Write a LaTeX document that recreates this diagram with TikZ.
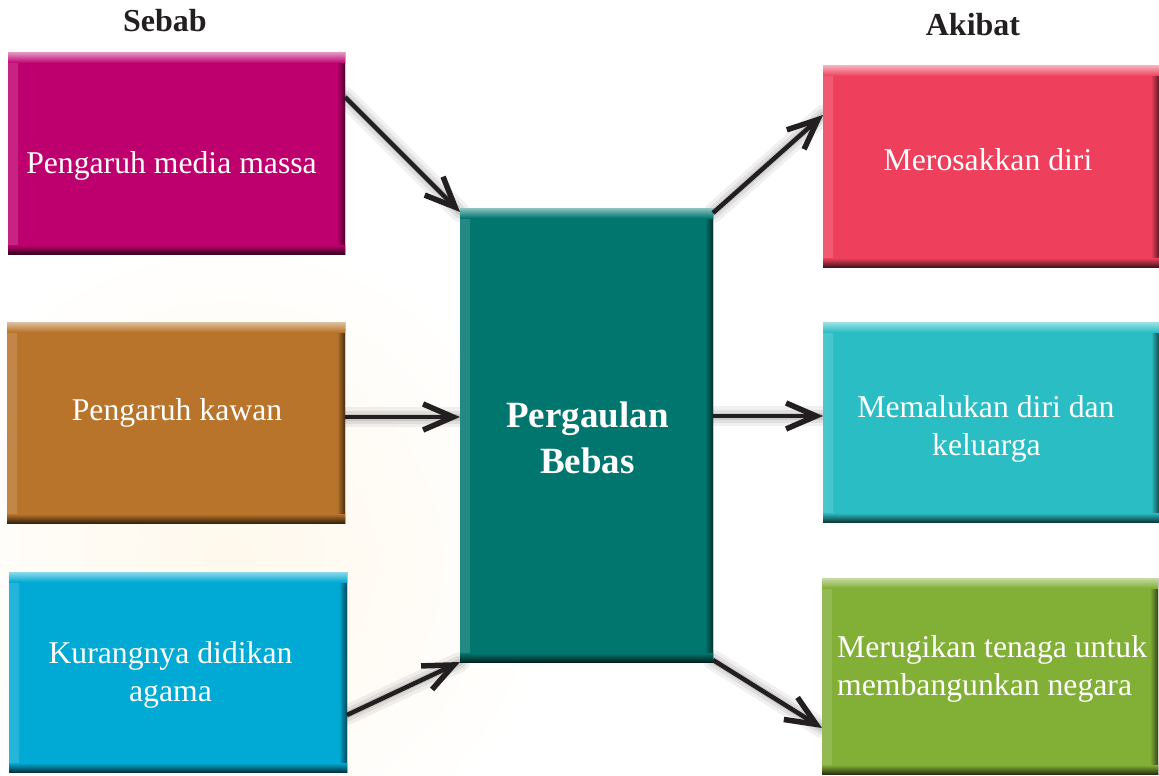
\documentclass[tikz,border=0pt]{standalone}
\usepackage{fontspec}
\setmainfont{Liberation Serif}
\usetikzlibrary{arrows.meta,calc}
\definecolor{cmag}{RGB}{190,0,110}
\definecolor{cbrown}{RGB}{184,116,42}
\definecolor{cblue}{RGB}{0,170,212}
\definecolor{cteal}{RGB}{0,118,110}
\definecolor{cred}{RGB}{238,64,92}
\definecolor{ccyan}{RGB}{42,190,196}
\definecolor{cgreen}{RGB}{130,175,54}
\definecolor{ink}{RGB}{35,31,32}
\definecolor{cream}{RGB}{255,248,236}
\tikzset{
  box/.style={rectangle, inner sep=0pt, outer sep=0pt, draw=none, fill=#1,
    path picture={
      \shade[left color=#1!86!white, right color=#1] (path picture bounding box.north west) rectangle ([xshift=10pt]path picture bounding box.south west);
      \shade[left color=#1, right color=#1!40!black] ([xshift=-8pt]path picture bounding box.north east) rectangle (path picture bounding box.south east);
      \shade[top color=#1!45!white, bottom color=#1] (path picture bounding box.north west) rectangle ([yshift=-10pt]path picture bounding box.north east);
      \shade[top color=#1, bottom color=#1!30!black] ([yshift=9pt]path picture bounding box.south west) rectangle (path picture bounding box.south east);
    }},
  txt/.style={text=white, font=\fontsize{31.7}{38}\selectfont, anchor=base, inner sep=0pt},
  ctxt/.style={text=white, font=\fontsize{37}{46}\selectfont\bfseries, anchor=base, inner sep=0pt},
  head/.style={text=ink, font=\fontsize{32}{38}\selectfont\bfseries, anchor=base, inner sep=0pt},
  arr/.style={draw=ink, line width=4.5pt, -{Straight Barb[length=30pt,width=26pt,line width=5.5pt]}},
  shad/.style={draw=black, opacity=#1, line cap=round},
}
\begin{document}
\begin{tikzpicture}[x=1pt,y=-1pt]
\useasboundingbox[fill=white] (0,0) rectangle (1159,776);
\shade[inner color=cream, outer color=white] (230,560) circle (330);

% box nodes
\node[box=cmag,  minimum width=337pt, minimum height=201pt] (s1) at (176.5,153.5) {};
\node[box=cbrown,minimum width=338pt, minimum height=201pt] (s2) at (176,422.5) {};
\node[box=cblue, minimum width=338pt, minimum height=200pt] (s3) at (178,672) {};
\node[box=cred,  minimum width=336pt, minimum height=201pt] (r1) at (991,166.5) {};
\node[box=ccyan, minimum width=336pt, minimum height=200pt] (r2) at (991,422) {};
\node[box=cgreen,minimum width=336pt, minimum height=196pt] (r3) at (990,676) {};

% arrow end points
\coordinate (a1s) at ($(s1.north east)+(0,44)$);
\coordinate (a2s) at ($(s2.east)+(0,-5.5)$);
\coordinate (a3s) at ($(s3.south east)+(0,-57)$);
\coordinate (a4e) at ($(r1.north west)+(0,49)$);
\coordinate (a6e) at ($(r3.north west)+(0,150)$);

\node[box=cteal, minimum width=253pt, minimum height=454pt] (c) at (586.5,435) {};

\coordinate (a1e) at ($(c.north west)+(0,4)$);
\coordinate (a2e) at (c.west |- a2s);
\coordinate (a3e) at (c.south west);
\coordinate (a4s) at ($(c.north east)+(0,5)$);
\coordinate (a5s) at ($(c.east)+(0,-19)$);
\coordinate (a5e) at (r2.west |- a5s);
\coordinate (a6s) at ($(c.south east)+(0,-2)$);

% arrow shadows
\begin{scope}[shift={(2,10)}]
\foreach \p/\q in {a1s/a1e,a2s/a2e,a3s/a3e,a4s/a4e,a5s/a5e,a6s/a6e}{
  \draw[shad=0.06, line width=20pt] (\p) -- (\q);
  \draw[shad=0.07, line width=13pt] (\p) -- (\q);
  \draw[shad=0.09, line width=7pt] (\p) -- (\q);
}
\end{scope}

% redraw boxes on top of shadows
\node[box=cmag,  minimum width=337pt, minimum height=201pt] (s1b) at (s1) {};
\node[box=cbrown,minimum width=338pt, minimum height=201pt] (s2b) at (s2) {};
\node[box=cblue, minimum width=338pt, minimum height=200pt] (s3b) at (s3) {};
\node[box=cred,  minimum width=336pt, minimum height=201pt] (r1b) at (r1) {};
\node[box=ccyan, minimum width=336pt, minimum height=200pt] (r2b) at (r2) {};
\node[box=cgreen,minimum width=336pt, minimum height=196pt] (r3b) at (r3) {};
\node[box=cteal, minimum width=253pt, minimum height=454pt] (cb) at (c) {};

% arrows
\draw[arr] (a1s) -- (a1e);
\draw[arr] (a2s) -- (a2e);
\draw[arr] (a3s) -- (a3e);
\draw[arr] (a4s) -- (a4e);
\draw[arr] (a5s) -- (a5e);
\draw[arr] (a6s) -- (a6e);

% texts
\node[head] (hs) at (165,32) {Sebab};
\node[head] (ha) at (973,36) {Akibat};
\node[txt] (ts1) at (171.5,173) {Pengaruh media massa};
\node[txt] (ts2) at (177,420) {Pengaruh kawan};
\node[txt] (ts3a) at (170.5,663) {Kurangnya didikan};
\node[txt] (ts3b) at (170.5,701) {agama};
\node[ctxt] (tca) at (587.5,427) {Pergaulan};
\node[ctxt] (tcb) at (587.5,473) {Bebas};
\node[txt] (tr1) at (988,170) {Merosakkan diri};
\node[txt] (tr2a) at (986,417) {Memalukan diri dan};
\node[txt] (tr2b) at (986.5,455.5) {keluarga};
\node[txt, anchor=base west] (tr3a) at (837,657) {Merugikan tenaga untuk};
\node[txt, anchor=base west] (tr3b) at (837,695) {membangunkan negara};
\end{tikzpicture}
\end{document}
